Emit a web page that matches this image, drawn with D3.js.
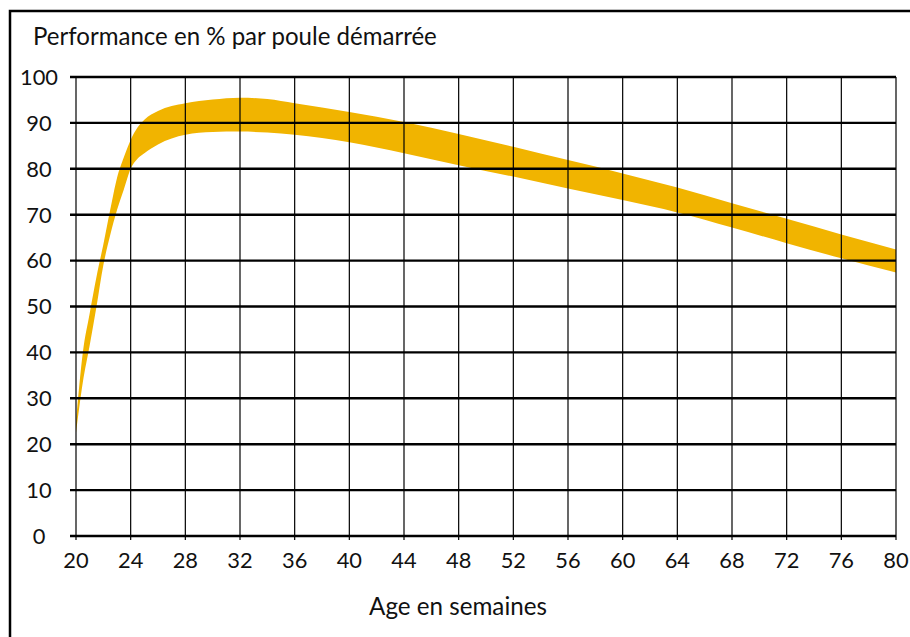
<!DOCTYPE html>
<html><head><meta charset="utf-8">
<script src="https://cdn.jsdelivr.net/npm/d3@7"></script>
<style>html,body{margin:0;padding:0;background:#fff;} svg{display:block;}</style>
</head><body>
<svg id="chart" width="910" height="637"></svg>
<script>
// ---- data ----
const weeks = [20, 20.5, 21, 21.5, 22, 22.5, 23, 23.5, 24, 24.5, 25, 26, 28, 30, 32, 34, 36, 40, 44, 48, 52, 56, 60, 64, 68, 72, 76, 80];
const upper = [25, 40, 48.5, 56.5, 63.5, 71, 78, 82.5, 86.3, 89, 90.7, 92.6, 94.3, 95.1, 95.5, 95.2, 94.3, 92.4, 90.2, 87.6, 84.8, 81.9, 79.0, 75.9, 72.5, 69.1, 65.7, 62.4];
const lower = [22.5, 33.5, 41.5, 50, 59, 65.5, 71, 75.5, 80, 82.2, 83.4, 85.3, 87.4, 88.0, 88.1, 87.9, 87.4, 85.8, 83.4, 80.8, 78.3, 75.7, 73.2, 70.5, 67.2, 63.8, 60.5, 57.4];
const xTicks = [20, 24, 28, 32, 36, 40, 44, 48, 52, 56, 60, 64, 68, 72, 76, 80];
const yTicks = [0, 10, 20, 30, 40, 50, 60, 70, 80, 90, 100];
const title = "Performance en % par poule démarrée";
const xTitle = "Age en semaines";

// ---- layout ----
const svg = d3.select("#chart");
const FONT = "Lato, 'Open Sans', sans-serif";
const x = d3.scaleLinear().domain([20, 80]).range([76, 896]);
const y = d3.scaleLinear().domain([0, 100]).range([536, 77]);

// frame
svg.append("rect").attr("x", 10).attr("y", 11).attr("width", 1000).attr("height", 1000)
  .attr("fill", "none").attr("stroke", "#000").attr("stroke-width", 2.5);

// band
const data = weeks.map((w, i) => ({w, u: upper[i], l: lower[i]}));
const area = d3.area().x(d => x(d.w)).y0(d => y(d.l)).y1(d => y(d.u)).curve(d3.curveMonotoneX);
svg.append("path").datum(data).attr("d", area).attr("fill", "#F1B400");

// vertical grid
svg.append("g").selectAll("line").data(xTicks).join("line")
  .attr("x1", d => x(d)).attr("x2", d => x(d)).attr("y1", y(100)).attr("y2", y(0) + 4)
  .attr("stroke", "#000").attr("stroke-width", 1.2);
// horizontal grid
svg.append("g").selectAll("line").data(yTicks).join("line")
  .attr("x1", x(20) - 6).attr("x2", x(80)).attr("y1", d => y(d)).attr("y2", d => y(d))
  .attr("stroke", "#000").attr("stroke-width", 2.4);

// fit helper
function fit(sel, target) {
  sel.attr("font-size", 20);
  const w = sel.node().getComputedTextLength();
  sel.attr("font-size", 20 * target / w);
}

// y labels
const yl = svg.append("g").selectAll("text").data(yTicks).join("text")
  .attr("x", 39).attr("y", d => y(d)).attr("dy", "0.36em").attr("text-anchor", "middle")
  .attr("font-family", FONT).attr("fill", "#111").text(d => d);
// size by "100"
const probe = svg.append("text").attr("font-family", FONT).text("100");
fit(probe, 38);
const tickSize = +probe.attr("font-size");
probe.remove();
yl.attr("font-size", tickSize);

// x labels
svg.append("g").selectAll("text").data(xTicks).join("text")
  .attr("x", d => x(d)).attr("y", 568).attr("text-anchor", "middle")
  .attr("font-family", FONT).attr("font-size", tickSize).attr("fill", "#111").text(d => d);

// titles
const t = svg.append("text").attr("x", 33).attr("y", 45).attr("font-family", FONT).attr("fill", "#111").text(title);
fit(t, 404);
const xt = svg.append("text").attr("x", 458).attr("y", 615).attr("text-anchor", "middle")
  .attr("font-family", FONT).attr("fill", "#111").text(xTitle);
fit(xt, 178);
</script>
</body></html>
